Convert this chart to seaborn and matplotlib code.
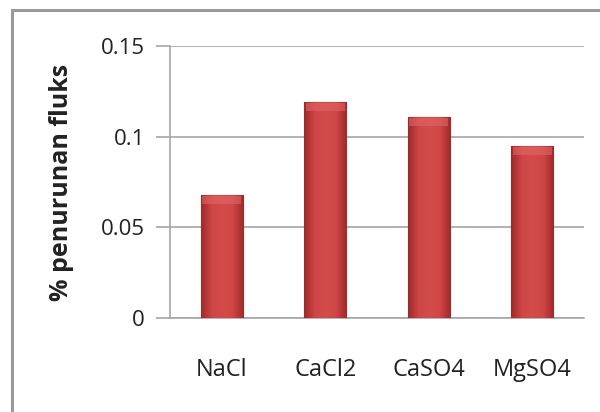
import numpy as np
import pandas as pd
import seaborn as sns
import matplotlib.pyplot as plt
from matplotlib.patches import Rectangle
from matplotlib.colors import LinearSegmentedColormap

# --- Data ---
salts = ['NaCl', 'CaCl2', 'CaSO4', 'MgSO4']
flux_drop = [0.068, 0.119, 0.111, 0.095]
yticks = [0, 0.05, 0.1, 0.15]
ytick_labels = ['0', '0.05', '0.1', '0.15']

df = pd.DataFrame({'salt': salts, 'value': flux_drop})

sns.set_theme(style='white')
plt.rcParams['font.family'] = ['Open Sans', 'DejaVu Sans']

fig = plt.figure(figsize=(6, 4.12), dpi=100)
ax = fig.add_axes([170 / 600, 1 - 318 / 412, 414 / 600, 272 / 412])

sns.barplot(data=df, x='salt', y='value', color='#c23b3b', width=0.41,
            edgecolor='#8a2020', linewidth=0.8, ax=ax, zorder=3)

# --- bevel-like shading on each bar ---
shade = LinearSegmentedColormap.from_list(
    'bar', ['#9e2a2a', '#cf4646', '#d44b4b', '#cf4646', '#9e2a2a'])
grad = np.linspace(0, 1, 64).reshape(1, -1)
for p in ax.patches:
    x0, w, h = p.get_x(), p.get_width(), p.get_height()
    im = ax.imshow(grad, cmap=shade, aspect='auto', zorder=4,
                   extent=[x0, x0 + w, 0, h])
    im.set_clip_path(p)
    # lighter cap at the top
    ax.add_patch(Rectangle((x0 + w * 0.04, h - 0.005), w * 0.92, 0.0045,
                           color='#e36a6a', alpha=0.55, zorder=5, lw=0))

ax.set_xlim(-0.5, 3.5)
ax.set_ylim(0, 0.15)
ax.set_yticks(yticks)
ax.set_yticklabels(ytick_labels)
ax.yaxis.grid(True, color='#a6a6a6', linewidth=1.2, zorder=0)
ax.set_axisbelow(True)

for s in ['top', 'right']:
    ax.spines[s].set_visible(False)
ax.spines['left'].set_color('#a6a6a6')
ax.spines['bottom'].set_color('#a6a6a6')
ax.spines['left'].set_linewidth(1.2)
ax.spines['bottom'].set_linewidth(1.2)

ax.tick_params(axis='y', which='major', left=True, length=10, width=1.2,
               color='#a6a6a6', pad=8, labelsize=16, labelcolor='#222222')
ax.tick_params(axis='x', bottom=False, pad=23, labelsize=17,
               labelcolor='#222222')

ax.set_xlabel('')
ax.set_ylabel('% penurunan fluks', fontsize=18, fontweight='bold',
              color='#222222')
ax.yaxis.set_label_coords(-0.232, 0.5)

# --- outer chart frame ---
fig.patches.append(Rectangle((12 / 600, -0.2), 1.2, 1.2 - 10 / 412,
                             transform=fig.transFigure, fill=False,
                             edgecolor='#9a9a9a', linewidth=2.2))

fig.savefig('out.png', dpi=100)
